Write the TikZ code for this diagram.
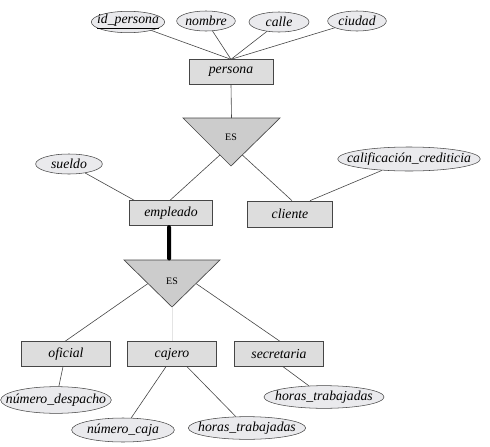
\documentclass[tikz,border=0pt]{standalone}
\usepackage{fontspec}
\setmainfont{Liberation Serif}
\usetikzlibrary{shapes.geometric,calc}
\definecolor{entfill}{RGB}{221,221,221}
\definecolor{attrfill}{RGB}{234,234,237}
\definecolor{trifill}{RGB}{204,204,204}
\definecolor{edgecol}{RGB}{70,70,70}
\definecolor{faint}{RGB}{228,228,228}
\newcommand{\zw}[1]{\makebox[0pt]{#1}}
\tikzset{
  ent/.style={draw=edgecol, fill=entfill, line width=0.5pt, inner sep=0pt,
    minimum height=18.5pt, font=\fontsize{10.3}{12}\selectfont\itshape},
  attr/.style={ellipse, draw=edgecol, fill=attrfill, line width=0.4pt, inner sep=0pt,
    font=\fontsize{10.3}{12}\selectfont\itshape},
  conn/.style={draw=edgecol, line width=0.45pt},
  isa/.style={draw=edgecol, fill=trifill, line width=0.5pt},
  isalabel/.style={font=\fontsize{7.5}{8}\selectfont, inner sep=0pt}
}
\begin{document}
\begin{tikzpicture}[x=0.75pt,y=-0.75pt]
\useasboundingbox (0,0) rectangle (490,447);
% attributes of persona
\node[attr, minimum width=55pt, minimum height=15pt] (idp) at (128,22) {\zw{\underline{id\_persona}}};
\node[attr, minimum width=44pt, minimum height=15pt] (nom) at (206,21) {\zw{nombre}};
\node[attr, minimum width=45pt, minimum height=15pt] (cal) at (279,22) {\zw{calle}};
\node[attr, minimum width=44pt, minimum height=15pt] (ciu) at (357,21) {\zw{ciudad}};
% persona
\node[ent, minimum width=63pt] (per) at (231,72) {persona};
% ISA 1
\coordinate (t1l) at (183,118);
\coordinate (t1r) at (280,118);
\coordinate (t1a) at (231,166);
\draw[isa] (t1l) -- (t1r) -- (t1a) -- cycle;
\node[isalabel] (es1) at (231,137) {ES};
% employees / clients
\node[attr, minimum width=50pt, minimum height=15pt] (sue) at (69,164) {\zw{sueldo}};
\node[attr, minimum width=107pt, minimum height=18pt] (cali) at (409,159) {\zw{calificación\_crediticia}};
\node[ent, minimum width=62pt] (emp) at (171,213) {empleado};
\node[ent, minimum width=64pt, minimum height=19.5pt] (cli) at (290,214) {cliente};
% ISA 2
\coordinate (t2l) at (124,260);
\coordinate (t2r) at (220,260);
\coordinate (t2a) at (172,307);
\draw[isa] (t2l) -- (t2r) -- (t2a) -- cycle;
\node[isalabel] (es2) at (172,281) {ES};
% subclasses
\node[ent, minimum width=67pt] (ofi) at (66,354) {oficial};
\node[ent, minimum width=67pt] (caj) at (172,354) {cajero};
\node[ent, minimum width=67pt] (sec) at (279,354) {secretaria};
% their attributes
\node[attr, minimum width=83pt, minimum height=20pt] (ndes) at (56,400) {\zw{número\_despacho}};
\node[attr, minimum width=77pt, minimum height=18pt] (ncaj) at (123,430) {\zw{número\_caja}};
\node[attr, minimum width=88pt, minimum height=17pt] (hor1) at (247,428) {\zw{horas\_trabajadas}};
\node[attr, minimum width=90pt, minimum height=17pt] (hor2) at (324,397) {\zw{horas\_trabajadas}};
% connectors persona
\draw[conn] (idp) -- (per.north);
\draw[conn] (nom) -- (per.north);
\draw[conn] (cal) -- (per.north);
\draw[conn] (ciu) -- (per.north);
\draw[conn] (per.south) -- ($(t1l)!0.5!(t1r)$);
% ISA1 to subclasses
\coordinate (t1p) at ($(t1l)!0.77!(t1a)$);
\coordinate (t1q) at ($(t1r)!0.77!(t1a)$);
\draw[conn] (t1p) -- ($(emp.north)+(-1,0)$);
\draw[conn] (t1q) -- ($(cli.north)+(2,0)$);
\draw[conn] (sue) -- ($(emp.north west)+(5,0)$);
\draw[conn] (cali) -- ($(cli.north)+(20,0)$);
% thick total line
\draw[line width=3pt, line cap=round, black] ($(emp.south)+(-2,1.5)$) -- ($(t2l)!0.47!(t2r)+(0,-1.5)$);
% ISA2 to subclasses
\coordinate (t2p) at ($(t2l)!0.5!(t2a)$);
\coordinate (t2q) at ($(t2r)!0.5!(t2a)$);
\draw[conn] (t2p) -- ($(ofi.north)+(-1,0)$);
\draw[conn] (t2q) -- ($(sec.north)+(1,0)$);
\draw[draw=faint, line width=0.4pt] (t2a) -- (caj.north);
% subclass attributes
\draw[conn] ($(ofi.south)+(-3,0)$) -- (ndes);
\draw[conn] ($(caj.south)+(-6,0)$) -- (ncaj);
\draw[conn] ($(caj.south)+(15,0)$) -- (hor1);
\draw[conn] ($(sec.south)+(4,0)$) -- (hor2);
\end{tikzpicture}
\end{document}
